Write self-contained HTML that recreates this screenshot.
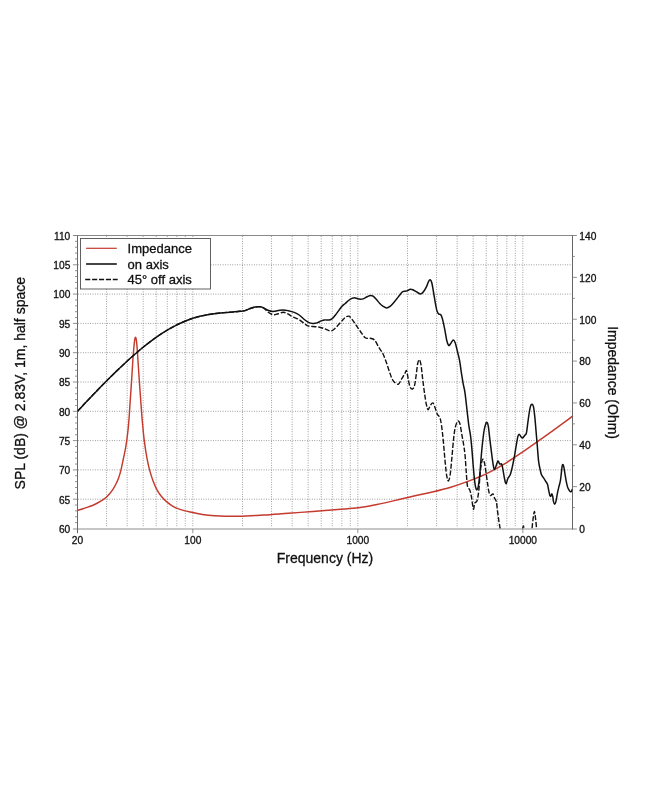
<!DOCTYPE html>
<html><head><meta charset="utf-8"><title>Frequency response</title>
<style>
html,body{margin:0;padding:0;background:#fff;}
body{width:650px;height:794px;overflow:hidden;}
svg text{filter:grayscale(1);stroke:#111;stroke-width:0.3px}
svg{display:block;font-family:"Liberation Sans",sans-serif;}
</style></head><body>
<svg width="650" height="794" viewBox="0 0 650 794">
<defs><clipPath id="cp"><rect x="77.5" y="235.5" width="495.0" height="293.0"/></clipPath></defs>
<rect width="650" height="794" fill="#fff"/>
<path d="M106.56 236.50V527.50M127.17 236.50V527.50M143.16 236.50V527.50M156.23 236.50V527.50M167.27 236.50V527.50M176.84 236.50V527.50M185.28 236.50V527.50M192.83 236.50V527.50M242.50 236.50V527.50M271.56 236.50V527.50M292.17 236.50V527.50M308.16 236.50V527.50M321.23 236.50V527.50M332.27 236.50V527.50M341.84 236.50V527.50M350.28 236.50V527.50M357.83 236.50V527.50M407.50 236.50V527.50M436.56 236.50V527.50M457.17 236.50V527.50M473.16 236.50V527.50M486.23 236.50V527.50M497.27 236.50V527.50M506.84 236.50V527.50M515.28 236.50V527.50M522.83 236.50V527.50M78.50 499.20H570.50M78.50 469.90H570.50M78.50 440.60H570.50M78.50 411.30H570.50M78.50 382.00H570.50M78.50 352.70H570.50M78.50 323.40H570.50M78.50 294.10H570.50M78.50 264.80H570.50" stroke="#7c7c7c" stroke-width="0.9" stroke-dasharray="0.01 2.4" stroke-linecap="round" fill="none"/>
<path d="M72.9 529H576.9" stroke="#c6c6c6" stroke-width="2" fill="none"/>
<path d="M72.9 235.5H576.9" stroke="#7d7d7d" stroke-width="0.9" fill="none"/>
<path d="M77.5 235.5V533.2M572.5 235.5V529.5" stroke="#666" stroke-width="1" fill="none"/>
<path d="M192.83 529V533.2M357.83 529V533.2M522.83 529V533.2" stroke="#777" stroke-width="0.8" fill="none"/>
<path d="M77.50 522.64h-2.50M77.50 516.78h-2.50M77.50 510.92h-2.50M77.50 505.06h-2.50M77.50 499.20h-4.60M77.50 493.34h-2.50M77.50 487.48h-2.50M77.50 481.62h-2.50M77.50 475.76h-2.50M77.50 469.90h-4.60M77.50 464.04h-2.50M77.50 458.18h-2.50M77.50 452.32h-2.50M77.50 446.46h-2.50M77.50 440.60h-4.60M77.50 434.74h-2.50M77.50 428.88h-2.50M77.50 423.02h-2.50M77.50 417.16h-2.50M77.50 411.30h-4.60M77.50 405.44h-2.50M77.50 399.58h-2.50M77.50 393.72h-2.50M77.50 387.86h-2.50M77.50 382.00h-4.60M77.50 376.14h-2.50M77.50 370.28h-2.50M77.50 364.42h-2.50M77.50 358.56h-2.50M77.50 352.70h-4.60M77.50 346.84h-2.50M77.50 340.98h-2.50M77.50 335.12h-2.50M77.50 329.26h-2.50M77.50 323.40h-4.60M77.50 317.54h-2.50M77.50 311.68h-2.50M77.50 305.82h-2.50M77.50 299.96h-2.50M77.50 294.10h-4.60M77.50 288.24h-2.50M77.50 282.38h-2.50M77.50 276.52h-2.50M77.50 270.66h-2.50M77.50 264.80h-4.60M77.50 258.94h-2.50M77.50 253.08h-2.50M77.50 247.22h-2.50M77.50 241.36h-2.50M572.50 507.57h2.40M572.50 486.64h4.40M572.50 465.71h2.40M572.50 444.79h4.40M572.50 423.86h2.40M572.50 402.93h4.40M572.50 382.00h2.40M572.50 361.07h4.40M572.50 340.14h2.40M572.50 319.21h4.40M572.50 298.29h2.40M572.50 277.36h4.40M572.50 256.43h2.40" stroke="#858585" stroke-width="0.9" fill="none"/>
<g clip-path="url(#cp)" fill="none" stroke-linejoin="round">
<path d="M77.50 510.40C78.30 510.17 80.47 509.58 82.30 509.00C84.13 508.42 86.45 507.65 88.50 506.90C90.55 506.15 92.55 505.47 94.60 504.50C96.65 503.53 98.95 502.23 100.80 501.10C102.65 499.97 104.27 498.88 105.70 497.70C107.13 496.52 108.17 495.43 109.40 494.00C110.63 492.57 111.97 490.85 113.10 489.10C114.23 487.35 115.28 485.35 116.20 483.50C117.12 481.65 117.80 480.28 118.60 478.00C119.40 475.72 120.22 472.97 121.00 469.80C121.78 466.63 122.60 462.27 123.30 459.00C124.00 455.73 124.63 453.23 125.20 450.20C125.77 447.17 126.23 444.15 126.70 440.80C127.17 437.45 127.60 433.90 128.00 430.10C128.40 426.30 128.78 422.08 129.10 418.00C129.42 413.92 129.48 411.87 129.90 405.60C130.32 399.33 131.08 388.38 131.60 380.40C132.12 372.42 132.58 363.58 133.00 357.70C133.42 351.82 133.80 348.18 134.10 345.10C134.40 342.02 134.57 340.50 134.80 339.20C135.03 337.90 135.27 337.30 135.50 337.30C135.73 337.30 135.97 337.90 136.20 339.20C136.43 340.50 136.63 342.02 136.90 345.10C137.17 348.18 137.40 351.82 137.80 357.70C138.20 363.58 138.75 372.42 139.30 380.40C139.85 388.38 140.62 399.00 141.10 405.60C141.58 412.20 141.80 415.28 142.20 420.00C142.60 424.72 143.15 430.43 143.50 433.90C143.85 437.37 143.88 437.67 144.30 440.80C144.72 443.93 145.40 449.03 146.00 452.70C146.60 456.37 147.28 459.85 147.90 462.80C148.52 465.75 148.87 467.45 149.70 470.40C150.53 473.35 151.73 477.35 152.90 480.50C154.07 483.65 155.23 486.58 156.70 489.30C158.17 492.02 160.02 494.70 161.70 496.80C163.38 498.90 164.92 500.32 166.80 501.90C168.68 503.48 170.80 505.05 173.00 506.30C175.20 507.55 177.17 508.45 180.00 509.40C182.83 510.35 186.28 511.15 190.00 512.00C193.72 512.85 198.20 513.88 202.30 514.50C206.40 515.12 208.45 515.42 214.60 515.70C220.75 515.98 231.00 516.32 239.20 516.20C247.40 516.08 255.58 515.50 263.80 515.00C272.02 514.50 280.30 513.78 288.50 513.20C296.70 512.62 304.80 512.12 313.00 511.50C321.20 510.88 330.12 510.12 337.70 509.50C345.28 508.88 351.97 508.63 358.50 507.80C365.03 506.97 370.75 505.73 376.90 504.50C383.05 503.27 389.23 501.82 395.40 500.40C401.57 498.98 407.75 497.40 413.90 496.00C420.05 494.60 426.15 493.47 432.30 492.00C438.45 490.53 444.65 489.05 450.80 487.20C456.95 485.35 463.05 483.25 469.20 480.90C475.35 478.55 481.53 476.12 487.70 473.10C493.87 470.08 500.05 466.55 506.20 462.80C512.35 459.05 518.45 454.78 524.60 450.60C530.75 446.42 536.95 442.07 543.10 437.70C549.25 433.33 556.60 427.98 561.50 424.40C566.40 420.82 570.67 417.57 572.50 416.20" stroke="#c43a2d" stroke-width="1.45"/>
<path d="M77.50 411.30C78.58 410.14 81.83 406.66 84.00 404.35C86.17 402.04 88.33 399.73 90.50 397.45C92.67 395.18 94.83 392.92 97.00 390.68C99.17 388.44 101.33 386.21 103.50 384.02C105.67 381.82 107.83 379.64 110.00 377.49C112.17 375.34 114.33 373.22 116.50 371.12C118.67 369.03 120.83 366.96 123.00 364.93C125.17 362.90 127.33 360.90 129.50 358.95C131.67 356.99 133.83 355.07 136.00 353.20C138.17 351.34 140.33 349.51 142.50 347.74C144.67 345.97 146.83 344.25 149.00 342.59C151.17 340.93 153.33 339.33 155.50 337.79C157.67 336.25 159.83 334.78 162.00 333.37C164.17 331.97 166.33 330.63 168.50 329.37C170.67 328.11 172.83 326.91 175.00 325.80C177.17 324.69 179.33 323.65 181.50 322.69C183.67 321.73 185.83 320.84 188.00 320.03C190.17 319.22 192.33 318.50 194.50 317.84C196.67 317.18 198.83 316.59 201.00 316.07C203.17 315.55 205.33 315.11 207.50 314.72C209.67 314.32 211.83 314.00 214.00 313.71C216.17 313.42 218.33 313.19 220.50 312.97C222.67 312.76 224.83 312.59 227.00 312.42C229.17 312.24 231.33 312.10 233.50 311.92C235.67 311.73 238.07 311.53 240.00 311.32C241.93 311.10 243.40 311.07 245.10 310.60C246.80 310.13 248.52 309.10 250.20 308.50C251.88 307.90 253.52 307.30 255.20 307.00C256.88 306.70 258.88 306.55 260.30 306.70C261.72 306.85 262.43 307.32 263.70 307.90C264.97 308.48 266.35 309.62 267.90 310.20C269.45 310.78 271.30 311.33 273.00 311.40C274.70 311.47 276.40 310.85 278.10 310.60C279.80 310.35 281.52 309.88 283.20 309.90C284.88 309.92 286.37 310.28 288.20 310.70C290.03 311.12 292.37 311.68 294.20 312.40C296.03 313.12 297.52 313.82 299.20 315.00C300.88 316.18 302.75 318.27 304.30 319.50C305.85 320.73 307.08 321.75 308.50 322.40C309.92 323.05 311.38 323.32 312.80 323.40C314.22 323.48 315.60 323.32 317.00 322.90C318.40 322.48 319.93 321.40 321.20 320.90C322.47 320.40 323.33 320.05 324.60 319.90C325.87 319.75 327.53 320.20 328.80 320.00C330.07 319.80 330.92 319.77 332.20 318.70C333.48 317.63 334.95 315.58 336.50 313.60C338.05 311.62 340.05 308.48 341.50 306.80C342.95 305.12 344.03 304.55 345.20 303.50C346.37 302.45 347.38 301.35 348.50 300.50C349.62 299.65 350.77 298.83 351.90 298.40C353.03 297.97 354.03 297.78 355.30 297.90C356.57 298.02 358.08 298.98 359.50 299.10C360.92 299.22 362.52 299.00 363.80 298.60C365.08 298.20 366.08 297.23 367.20 296.70C368.32 296.17 369.52 295.48 370.50 295.40C371.48 295.32 372.10 295.50 373.10 296.20C374.10 296.90 375.38 298.38 376.50 299.60C377.62 300.82 378.68 302.37 379.80 303.50C380.92 304.63 382.07 305.67 383.20 306.40C384.33 307.13 385.47 307.90 386.60 307.90C387.73 307.90 388.87 307.22 390.00 306.40C391.13 305.58 392.27 304.27 393.40 303.00C394.53 301.73 395.67 300.22 396.80 298.80C397.93 297.38 399.22 295.68 400.20 294.50C401.18 293.32 401.87 292.25 402.70 291.70C403.53 291.15 404.35 291.38 405.20 291.20C406.05 291.02 406.95 290.92 407.80 290.60C408.65 290.28 409.47 289.43 410.30 289.30C411.13 289.17 411.82 289.40 412.80 289.80C413.78 290.20 415.07 291.05 416.20 291.70C417.33 292.35 418.75 293.37 419.60 293.70C420.45 294.03 420.60 294.12 421.30 293.70C422.00 293.28 422.95 292.33 423.80 291.20C424.65 290.07 425.63 288.47 426.40 286.90C427.17 285.33 427.78 282.98 428.40 281.80C429.02 280.62 429.53 279.65 430.10 279.80C430.67 279.95 431.23 280.67 431.80 282.70C432.37 284.73 432.93 288.75 433.50 292.00C434.07 295.25 434.63 299.10 435.20 302.20C435.77 305.30 436.33 308.63 436.90 310.60C437.47 312.57 437.95 313.30 438.60 314.00C439.25 314.70 440.15 313.95 440.80 314.80C441.45 315.65 441.85 316.70 442.50 319.10C443.15 321.50 444.00 325.67 444.70 329.20C445.40 332.73 446.05 337.60 446.70 340.30C447.35 343.00 447.95 344.83 448.60 345.40C449.25 345.97 449.83 344.60 450.60 343.70C451.37 342.80 452.43 340.15 453.20 340.00C453.97 339.85 454.50 340.92 455.20 342.80C455.90 344.68 456.67 348.33 457.40 351.30C458.13 354.27 458.90 356.78 459.60 360.60C460.30 364.42 460.98 370.25 461.60 374.20C462.22 378.15 462.73 381.20 463.30 384.30C463.87 387.40 464.35 388.22 465.00 392.80C465.65 397.38 466.57 406.37 467.20 411.80C467.83 417.23 468.25 421.45 468.80 425.40C469.35 429.35 469.98 431.55 470.50 435.50C471.02 439.45 471.47 444.30 471.90 449.10C472.33 453.90 472.70 459.52 473.10 464.30C473.50 469.08 473.88 473.98 474.30 477.80C474.72 481.62 475.15 485.22 475.60 487.20C476.05 489.18 476.55 489.85 477.00 489.70C477.45 489.55 477.83 488.83 478.30 486.30C478.77 483.77 479.35 479.02 479.80 474.50C480.25 469.98 480.57 464.28 481.00 459.20C481.43 454.12 481.88 448.78 482.40 444.00C482.92 439.22 483.53 433.88 484.10 430.50C484.67 427.12 485.32 425.07 485.80 423.70C486.28 422.33 486.58 421.88 487.00 422.30C487.42 422.72 487.80 423.15 488.30 426.20C488.80 429.25 489.43 435.93 490.00 440.60C490.57 445.27 491.13 449.97 491.70 454.20C492.27 458.43 492.92 463.47 493.40 466.00C493.88 468.53 494.12 469.53 494.60 469.40C495.08 469.27 495.73 466.62 496.30 465.20C496.87 463.78 497.45 461.10 498.00 460.90C498.55 460.70 498.97 463.43 499.60 464.00C500.23 464.57 501.20 463.12 501.80 464.30C502.40 465.48 502.72 468.57 503.20 471.10C503.68 473.63 504.22 477.38 504.70 479.50C505.18 481.62 505.58 483.93 506.10 483.80C506.62 483.67 507.10 480.25 507.80 478.70C508.50 477.15 509.52 476.62 510.30 474.50C511.08 472.38 511.80 469.12 512.50 466.00C513.20 462.88 513.88 459.18 514.50 455.80C515.12 452.42 515.63 448.93 516.20 445.70C516.77 442.47 517.42 438.32 517.90 436.40C518.38 434.48 518.62 434.20 519.10 434.20C519.58 434.20 520.23 435.75 520.80 436.40C521.37 437.05 521.85 438.25 522.50 438.10C523.15 437.95 524.05 436.35 524.70 435.50C525.35 434.65 525.90 434.97 526.40 433.00C526.90 431.03 527.25 426.95 527.70 423.70C528.15 420.45 528.62 416.47 529.10 413.50C529.58 410.53 530.12 407.45 530.60 405.90C531.08 404.35 531.52 404.05 532.00 404.20C532.48 404.35 533.03 404.68 533.50 406.80C533.97 408.92 534.38 412.95 534.80 416.90C535.22 420.85 535.58 425.65 536.00 430.50C536.42 435.35 536.88 441.03 537.30 446.00C537.72 450.97 538.10 456.72 538.50 460.30C538.90 463.88 539.20 465.10 539.70 467.50C540.20 469.90 540.80 472.90 541.50 474.70C542.20 476.50 543.20 477.20 543.90 478.30C544.60 479.40 545.10 480.30 545.70 481.30C546.30 482.30 547.00 482.80 547.50 484.30C548.00 485.80 548.30 488.42 548.70 490.30C549.10 492.18 549.53 494.62 549.90 495.60C550.27 496.58 550.58 496.50 550.90 496.20C551.22 495.90 551.50 493.80 551.80 493.80C552.10 493.80 552.42 494.90 552.70 496.20C552.98 497.50 553.17 500.25 553.50 501.60C553.83 502.95 554.30 504.30 554.70 504.30C555.10 504.30 555.47 503.35 555.90 501.60C556.33 499.85 556.80 496.28 557.30 493.80C557.80 491.32 558.38 488.88 558.90 486.70C559.42 484.52 559.98 483.10 560.40 480.70C560.82 478.30 561.12 474.70 561.40 472.30C561.68 469.90 561.87 467.60 562.10 466.30C562.33 465.00 562.53 464.50 562.80 464.50C563.07 464.50 563.35 464.80 563.70 466.30C564.05 467.80 564.50 471.10 564.90 473.50C565.30 475.90 565.70 478.60 566.10 480.70C566.50 482.80 566.85 484.60 567.30 486.10C567.75 487.60 568.30 488.77 568.80 489.70C569.30 490.63 569.85 491.45 570.30 491.70C570.75 491.95 571.15 491.63 571.50 491.20C571.85 490.77 572.25 489.45 572.40 489.10" stroke="#111" stroke-width="1.5"/>
<path d="M77.50 411.30C78.58 410.14 81.83 406.66 84.00 404.35C86.17 402.04 88.33 399.73 90.50 397.45C92.67 395.18 94.83 392.92 97.00 390.68C99.17 388.44 101.33 386.21 103.50 384.02C105.67 381.82 107.83 379.64 110.00 377.49C112.17 375.34 114.33 373.22 116.50 371.12C118.67 369.03 120.83 366.96 123.00 364.93C125.17 362.90 127.33 360.90 129.50 358.95C131.67 356.99 133.83 355.07 136.00 353.20C138.17 351.34 140.33 349.51 142.50 347.74C144.67 345.97 146.83 344.25 149.00 342.59C151.17 340.93 153.33 339.33 155.50 337.79C157.67 336.25 159.83 334.78 162.00 333.37C164.17 331.97 166.33 330.63 168.50 329.37C170.67 328.11 172.83 326.91 175.00 325.80C177.17 324.69 179.33 323.65 181.50 322.69C183.67 321.73 185.83 320.84 188.00 320.03C190.17 319.22 192.33 318.50 194.50 317.84C196.67 317.18 198.83 316.59 201.00 316.07C203.17 315.55 205.33 315.11 207.50 314.72C209.67 314.32 211.83 314.00 214.00 313.71C216.17 313.42 218.33 313.19 220.50 312.97C222.67 312.76 224.83 312.59 227.00 312.42C229.17 312.24 231.33 312.10 233.50 311.92C235.67 311.73 238.07 311.53 240.00 311.32C241.93 311.10 243.40 311.07 245.10 310.60C246.80 310.13 248.52 309.10 250.20 308.50C251.88 307.90 253.52 307.30 255.20 307.00C256.88 306.70 258.88 306.52 260.30 306.70C261.72 306.88 262.43 307.22 263.70 308.10C264.97 308.98 266.35 310.90 267.90 312.00C269.45 313.10 271.30 314.40 273.00 314.70C274.70 315.00 276.40 314.20 278.10 313.80C279.80 313.40 281.65 312.33 283.20 312.30C284.75 312.27 285.85 312.87 287.40 313.60C288.95 314.33 290.67 315.77 292.50 316.70C294.33 317.63 296.57 318.17 298.40 319.20C300.23 320.23 301.95 321.80 303.50 322.90C305.05 324.00 306.15 325.20 307.70 325.80C309.25 326.40 310.83 326.27 312.80 326.50C314.77 326.73 317.53 326.82 319.50 327.20C321.47 327.58 322.90 328.18 324.60 328.80C326.30 329.42 328.28 330.70 329.70 330.90C331.12 331.10 331.68 330.97 333.10 330.00C334.52 329.03 336.52 326.85 338.20 325.10C339.88 323.35 341.90 320.87 343.20 319.50C344.50 318.13 345.05 317.45 346.00 316.90C346.95 316.35 347.92 315.83 348.90 316.20C349.88 316.57 350.85 317.83 351.90 319.10C352.95 320.37 353.83 321.82 355.20 323.80C356.57 325.78 358.43 328.67 360.10 331.00C361.77 333.33 363.52 336.58 365.20 337.80C366.88 339.02 368.65 337.93 370.20 338.30C371.75 338.67 373.08 338.53 374.50 340.00C375.92 341.47 377.30 344.80 378.70 347.10C380.10 349.40 381.63 351.27 382.90 353.80C384.17 356.33 385.17 359.18 386.30 362.30C387.43 365.42 388.57 369.45 389.70 372.50C390.83 375.55 391.68 378.63 393.10 380.60C394.52 382.57 396.80 384.53 398.20 384.30C399.60 384.07 400.38 381.03 401.50 379.20C402.62 377.37 404.05 374.70 404.90 373.30C405.75 371.90 406.03 369.82 406.60 370.80C407.17 371.78 407.73 376.53 408.30 379.20C408.87 381.87 409.30 385.17 410.00 386.80C410.70 388.43 411.73 389.27 412.50 389.00C413.27 388.73 413.97 387.67 414.60 385.20C415.23 382.73 415.80 377.73 416.30 374.20C416.80 370.67 417.10 366.40 417.60 364.00C418.10 361.60 418.73 359.67 419.30 359.80C419.87 359.93 420.43 361.57 421.00 364.80C421.57 368.03 422.08 374.25 422.70 379.20C423.32 384.15 424.08 390.27 424.70 394.50C425.32 398.73 425.83 402.07 426.40 404.60C426.97 407.13 427.45 409.55 428.10 409.70C428.75 409.85 429.52 406.63 430.30 405.50C431.08 404.37 432.03 402.62 432.80 402.90C433.57 403.18 434.15 405.33 434.90 407.20C435.65 409.07 436.47 412.37 437.30 414.10C438.13 415.83 439.18 415.62 439.90 417.60C440.62 419.58 441.03 422.10 441.60 426.00C442.17 429.90 442.70 434.90 443.30 441.00C443.90 447.10 444.62 456.73 445.20 462.60C445.78 468.47 446.25 473.15 446.80 476.20C447.35 479.25 447.93 481.18 448.50 480.90C449.07 480.62 449.63 478.40 450.20 474.50C450.77 470.60 451.33 463.43 451.90 457.50C452.47 451.57 453.03 443.97 453.60 438.90C454.17 433.83 454.60 430.05 455.30 427.10C456.00 424.15 457.03 421.77 457.80 421.20C458.57 420.63 459.25 421.60 459.90 423.70C460.55 425.80 461.05 430.13 461.70 433.80C462.35 437.47 463.23 442.03 463.80 445.70C464.37 449.37 464.68 451.28 465.10 455.80C465.52 460.32 465.90 467.72 466.30 472.80C466.70 477.88 466.93 483.48 467.50 486.30C468.07 489.12 469.05 488.00 469.70 489.70C470.35 491.40 470.92 493.97 471.40 496.50C471.88 499.03 472.23 502.78 472.60 504.90C472.97 507.02 473.23 509.48 473.60 509.20C473.97 508.92 474.23 504.62 474.80 503.20C475.37 501.78 476.35 502.67 477.00 500.70C477.65 498.73 478.23 495.22 478.70 491.40C479.17 487.58 479.42 482.03 479.80 477.80C480.18 473.57 480.52 469.10 481.00 466.00C481.48 462.90 482.13 459.77 482.70 459.20C483.27 458.63 483.88 460.62 484.40 462.60C484.92 464.58 485.28 467.72 485.80 471.10C486.32 474.48 487.00 479.52 487.50 482.90C488.00 486.28 488.30 489.28 488.80 491.40C489.30 493.52 489.82 495.18 490.50 495.60C491.18 496.02 492.22 493.47 492.90 493.90C493.58 494.33 494.03 496.93 494.60 498.20C495.17 499.47 495.80 499.25 496.30 501.50C496.80 503.75 497.15 508.32 497.60 511.70C498.05 515.08 498.57 518.92 499.00 521.80C499.43 524.68 499.78 525.97 500.20 529.00C500.62 532.03 501.28 538.17 501.50 540.00" stroke="#111" stroke-width="1.4" stroke-dasharray="5.1 1.8"/>
<path d="M521.80 536.00C521.93 534.83 522.33 530.67 522.60 529.00C522.87 527.33 523.13 526.00 523.40 526.00C523.67 526.00 523.93 527.33 524.20 529.00C524.47 530.67 524.87 534.83 525.00 536.00" stroke="#111" stroke-width="1.4" stroke-dasharray="5.1 1.8"/>
<path d="M531.20 540.00C531.33 538.17 531.67 532.67 532.00 529.00C532.33 525.33 532.80 520.92 533.20 518.00C533.60 515.08 534.02 511.50 534.40 511.50C534.78 511.50 535.13 515.08 535.50 518.00C535.87 520.92 536.28 525.33 536.60 529.00C536.92 532.67 537.27 538.17 537.40 540.00" stroke="#111" stroke-width="1.4" stroke-dasharray="5.1 1.8" stroke-dashoffset="2"/>
</g>
<rect x="80.5" y="238.5" width="130" height="50.5" fill="#fff" stroke="#505050" stroke-width="0.9"/>
<path d="M86.1 248.3H116.8" stroke="#c43a2d" stroke-width="1.2"/>
<path d="M86.1 264H116.8" stroke="#3a3a3a" stroke-width="1.9"/>
<path d="M85.2 279.5H117.7" stroke="#111" stroke-width="1.4" stroke-dasharray="5.1 1.8"/>
<g font-size="13" fill="#111">
<text x="127.6" y="252.9">Impedance</text>
<text x="127.6" y="268.6">on axis</text>
<text x="127.6" y="284.3">45° off axis</text>
</g>
<g font-size="10.2" fill="#111">
<text x="70.3" y="532.80" text-anchor="end">60</text>
<text x="70.3" y="503.50" text-anchor="end">65</text>
<text x="70.3" y="474.20" text-anchor="end">70</text>
<text x="70.3" y="444.90" text-anchor="end">75</text>
<text x="70.3" y="415.60" text-anchor="end">80</text>
<text x="70.3" y="386.30" text-anchor="end">85</text>
<text x="70.3" y="357.00" text-anchor="end">90</text>
<text x="70.3" y="327.70" text-anchor="end">95</text>
<text x="70.3" y="298.40" text-anchor="end">100</text>
<text x="70.3" y="269.10" text-anchor="end">105</text>
<text x="70.3" y="239.80" text-anchor="end">110</text>
<text x="579.3" y="532.80">0</text>
<text x="579.3" y="490.94">20</text>
<text x="579.3" y="449.09">40</text>
<text x="579.3" y="407.23">60</text>
<text x="579.3" y="365.37">80</text>
<text x="579.3" y="323.51">100</text>
<text x="579.3" y="281.66">120</text>
<text x="579.3" y="239.80">140</text>
<text x="77.50" y="544" text-anchor="middle">20</text>
<text x="192.83" y="544" text-anchor="middle">100</text>
<text x="357.83" y="544" text-anchor="middle">1000</text>
<text x="522.83" y="544" text-anchor="middle">10000</text>
</g>
<g font-size="14" fill="#111">
<text x="325" y="563.2" text-anchor="middle">Frequency (Hz)</text>
<text transform="translate(25.1 383.2) rotate(-90)" text-anchor="middle">SPL (dB) @ 2.83V, 1m, half space</text>
<text transform="translate(607.7 382.6) rotate(90)" text-anchor="middle">Impedance (Ohm)</text>
</g>
</svg>
</body></html>
